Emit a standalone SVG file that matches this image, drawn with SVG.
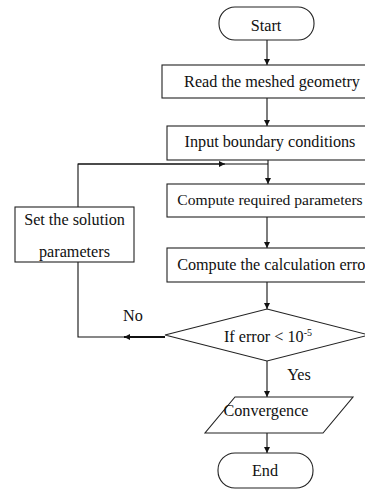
<svg xmlns="http://www.w3.org/2000/svg" width="365" height="491" viewBox="0 0 365 491">
<style>
.s{fill:#fff;stroke:#222;stroke-width:1.1}
.t{font-family:"Liberation Serif","Times New Roman",serif;font-size:16.2px;fill:#111;text-anchor:middle}
.c{fill:none;stroke:#111;stroke-width:1.1}
</style>
<defs>
<marker id="ah" viewBox="0 0 10 10" refX="10" refY="5" markerWidth="6" markerHeight="6" markerUnits="userSpaceOnUse" orient="auto">
<path d="M0,0 L10,5 L0,10 z" fill="#111"/>
</marker>
</defs>
<rect width="365" height="491" fill="#fff"/>
<g id="connectors">
<line class="c" x1="267" y1="40" x2="267" y2="65" marker-end="url(#ah)"/>
<line class="c" x1="267" y1="98" x2="267" y2="126" marker-end="url(#ah)"/>
<line class="c" x1="268" y1="160" x2="268" y2="184" marker-end="url(#ah)"/>
<line class="c" x1="267" y1="217" x2="267" y2="248" marker-end="url(#ah)"/>
<line class="c" x1="267" y1="282" x2="267" y2="309" marker-end="url(#ah)"/>
<line class="c" x1="267" y1="361" x2="267" y2="397" marker-end="url(#ah)"/>
<line class="c" x1="267" y1="433" x2="267" y2="453" marker-end="url(#ah)"/>
<polyline class="c" points="78,207 78,164 268,164"/>
<line class="c" x1="78" y1="164" x2="225" y2="164" marker-end="url(#ah)"/>
<polyline class="c" points="78,262 78,337 127,337"/>
<line x1="165" y1="337" x2="124" y2="337" stroke="#111" stroke-width="2" marker-end="url(#ah)"/>
<text class="t" x="133" y="321">No</text>
<text class="t" x="299" y="380">Yes</text>
</g>
<g id="start">
<rect class="s" x="219" y="7" width="95" height="33" rx="16" ry="16"/>
<text class="t" x="266" y="31">Start</text>
</g>
<g id="read">
<rect class="s" x="162" y="65" width="215" height="33"/>
<text class="t" x="272" y="87">Read the meshed geometry</text>
</g>
<g id="input">
<rect class="s" x="167" y="126" width="210" height="34"/>
<text class="t" x="270" y="147">Input boundary conditions</text>
</g>
<g id="compute-params">
<rect class="s" x="167" y="184" width="210" height="33"/>
<text class="t" x="270" y="205" style="font-size:15.6px">Compute required parameters</text>
</g>
<g id="compute-error">
<rect class="s" x="167" y="248" width="210" height="34"/>
<text class="t" x="274" y="270">Compute the calculation error</text>
</g>
<g id="decision">
<polygon class="s" points="267,309 369,335 267,361 165,335"/>
<text class="t" x="268" y="342">If error &lt; 10<tspan font-size="10" dy="-6">-5</tspan></text>
</g>
<g id="set-params">
<rect class="s" x="15" y="207" width="119" height="55"/>
<text class="t" x="74.5" y="225">Set the solution</text>
<text class="t" x="74.5" y="257">parameters</text>
</g>
<g id="convergence">
<polygon class="s" points="235,397 353,397 323,433 205,433"/>
<text class="t" x="266" y="416">Convergence</text>
</g>
<g id="end">
<rect class="s" x="218" y="453" width="95" height="35" rx="17" ry="17"/>
<text class="t" x="265" y="476">End</text>
</g>
</svg>
